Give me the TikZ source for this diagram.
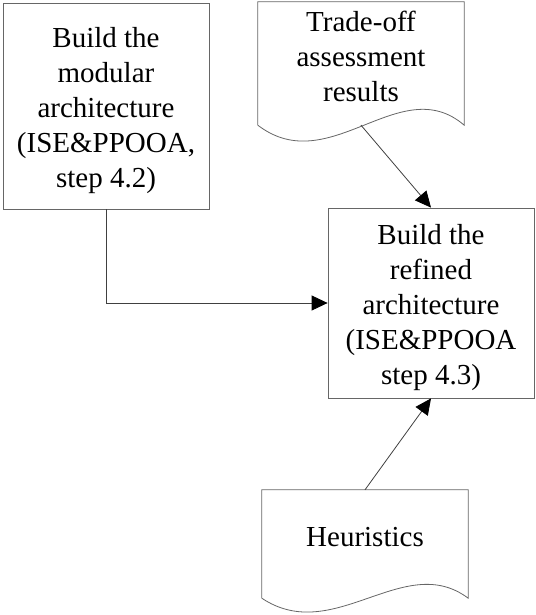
\documentclass[tikz,border=0pt]{standalone}
\usepackage{fontspec}
\setmainfont{Liberation Serif}
\usetikzlibrary{arrows.meta}
\tikzset{
    normal/.style={draw=black!60, line width=0.8pt},
    box/.style={style=normal, rectangle, minimum width=206pt},
    doc/.style={rectangle, minimum width=206pt, inner sep=0pt}, % outline drawn by hand
    doctext/.style={align=center, font=\fontsize{29}{35}\selectfont},
    e/.style={draw=black!75, line width=0.8pt, -{Triangle[length=16pt, width=15pt, color=black]}} % flow edge
}
\begin{document}
\begin{tikzpicture}[x=1pt, y=1pt]
          \useasboundingbox (0,0) rectangle (535,-615);
          \node[box, minimum height=206pt] (modular) at (106,-106) {};
          \node[doctext] (modulartext) at ([yshift=-5pt]modular) {Build the\\modular\\architecture\\(ISE\&PPOOA,\\step 4.2)};
          \node[box, minimum height=190pt] (refined) at (431,-303) {};
          \node[doctext] (refinedtext) at ([yshift=-5pt]refined) {Build the\\refined\\architecture\\(ISE\&PPOOA\\step 4.3)};
          \node[doc, minimum height=123pt] (tradeoff) at (361,-63.5) {};
          \node[doctext] (tradeofftext) at (361,-56) {Trade-off\\assessment\\results};
          \node[doc, minimum height=108pt] (heur) at (365,-544) {};
          \node[doctext] (heurtext) at (365,-537) {Heuristics};

          % document outlines with wavy bottom
          \draw[normal] (tradeoff.south west) -- (tradeoff.north west) -- (tradeoff.north east) -- (tradeoff.south east)
              .. controls +(-64,55) and +(72,-55) .. (tradeoff.south west);
          \draw[normal] (heur.south west) -- (heur.north west) -- (heur.north east) -- (heur.south east)
              .. controls +(-64,48) and +(72,-48) .. (heur.south west);

          \draw[e] (modular.south) |- (refined.west);
          \draw[e] (tradeoff.south) -- (refined.north);
          \draw[e] (heur.north) -- (refined.south);
        \end{tikzpicture}
\end{document}
